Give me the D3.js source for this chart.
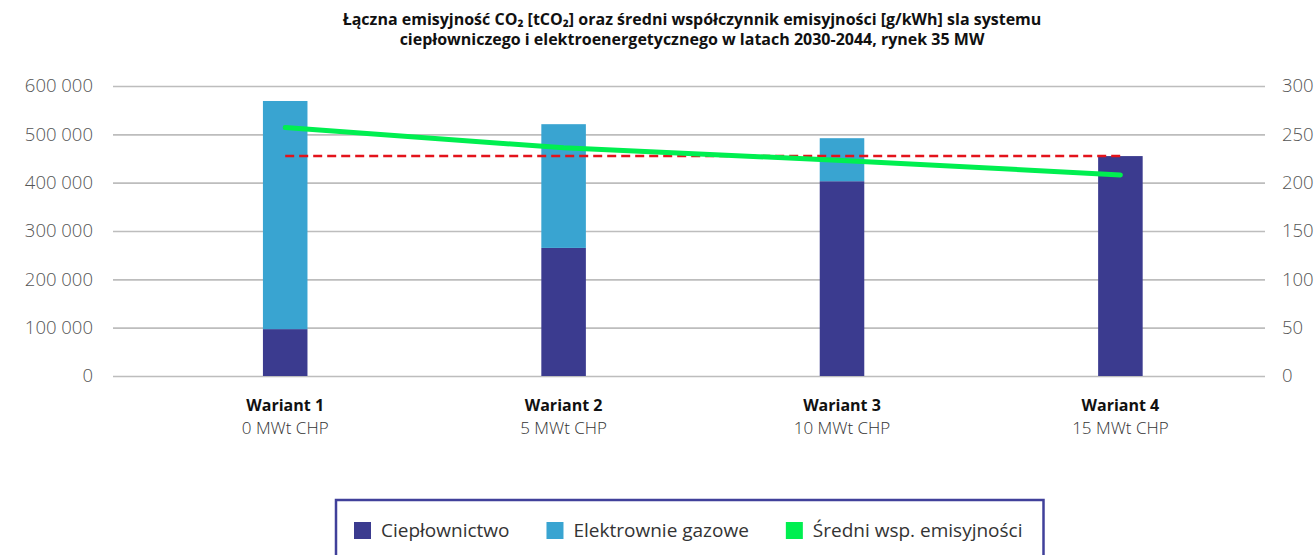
<!DOCTYPE html>
<html><head><meta charset="utf-8">
<script src="https://cdn.jsdelivr.net/npm/d3@7"></script>
<style>
html,body{margin:0;padding:0;background:#fff;}
svg{display:block;}
</style></head>
<body>
<svg id="chart" width="1316" height="555"></svg>
<script>
// ---- data ----
const categories = ["Wariant 1", "Wariant 2", "Wariant 3", "Wariant 4"];
const subLabels = ["0 MWt CHP", "5 MWt CHP", "10 MWt CHP", "15 MWt CHP"];
const cieplownictwo = [97000, 265000, 403000, 455000];
const elektrownieGazowe = [472000, 256000, 89000, 0];
const sredniWsp = [257, 236, 223, 208];
const referenceValue = 455000;
const leftTicks = [0, 100000, 200000, 300000, 400000, 500000, 600000];
const rightTicks = [0, 50, 100, 150, 200, 250, 300];
const titleLines = [
  "Łączna emisyjność CO₂ [tCO₂] oraz średni współczynnik emisyjności [g/kWh] sla systemu",
  "ciepłowniczego i elektroenergetycznego w latach 2030-2044, rynek 35 MW"
];
const legendItems = ["Ciepłownictwo", "Elektrownie gazowe", "Średni wsp. emisyjności"];

// ---- styles ----
const C_DARK = "#3b3b8f", C_LIGHT = "#39a4d1", C_GREEN = "#00ef50", C_RED = "#e3131b";
const FONT = "'Open Sans', sans-serif";

const svg = d3.select("#chart");
svg.append("rect").attr("width", 1316).attr("height", 555).attr("fill", "#fff");

const gridLeft = 113, gridRight = 1265, yTop = 86, yBottom = 376;

const x = d3.scaleBand().domain(categories).range([146, 1259.6])
  .paddingInner(0.84).paddingOuter(0.42);
const yL = d3.scaleLinear().domain([0, 600000]).range([yBottom, yTop]);
const yR = d3.scaleLinear().domain([0, 300]).range([yBottom, yTop]);

const loc = d3.formatLocale({decimal: ",", thousands: " ", grouping: [3], currency: ["", ""]});
const fmt = loc.format(",");

// left axis + gridlines
const gL = svg.append("g").attr("transform", `translate(${gridLeft},0)`)
  .call(d3.axisLeft(yL).tickValues(leftTicks).tickFormat(fmt)
    .tickSize(-(gridRight - gridLeft)).tickPadding(20));
gL.select(".domain").remove();
gL.selectAll(".tick line").attr("stroke", "#bdbdbd").attr("stroke-width", 1.6);
gL.selectAll(".tick text").attr("font-family", FONT).attr("font-weight", 300)
  .attr("font-size", 18.5).attr("fill", "#555");

// right axis
const gR = svg.append("g").attr("transform", `translate(${gridRight},0)`)
  .call(d3.axisRight(yR).tickValues(rightTicks).tickSize(0).tickPadding(17));
gR.select(".domain").remove();
gR.selectAll(".tick text").attr("font-family", FONT).attr("font-weight", 300)
  .attr("font-size", 18.5).attr("fill", "#555");

// stacked bars
const stackData = categories.map((c, i) => ({cat: c, a: cieplownictwo[i], b: elektrownieGazowe[i]}));
const stacked = d3.stack().keys(["a", "b"])(stackData);
const colors = [C_DARK, C_LIGHT];
stacked.forEach((layer, li) => {
  svg.append("g").selectAll("rect").data(layer).join("rect")
    .attr("x", d => x(d.data.cat))
    .attr("width", x.bandwidth())
    .attr("y", d => yL(d[1]))
    .attr("height", d => Math.max(0, yL(d[0]) - yL(d[1])))
    .attr("fill", colors[li]);
});

// reference dashed line
svg.append("line")
  .attr("x1", x(categories[0]) + x.bandwidth() / 2)
  .attr("x2", x(categories[categories.length - 1]) + x.bandwidth() / 2)
  .attr("y1", yL(referenceValue)).attr("y2", yL(referenceValue))
  .attr("stroke", C_RED).attr("stroke-width", 2.5).attr("stroke-dasharray", "9,5");

// green line
const line = d3.line().x((d, i) => x(categories[i]) + x.bandwidth() / 2).y(d => yR(d));
svg.append("path").datum(sredniWsp).attr("d", line)
  .attr("fill", "none").attr("stroke", C_GREEN).attr("stroke-width", 5)
  .attr("stroke-linecap", "round").attr("stroke-linejoin", "round");

// x labels
const xl = svg.append("g");
categories.forEach((c, i) => {
  const cx = x(c) + x.bandwidth() / 2;
  xl.append("text").attr("x", cx).attr("y", 411).attr("text-anchor", "middle")
    .attr("font-family", FONT).attr("font-weight", 700).attr("font-size", 16)
    .attr("fill", "#111").text(c);
  xl.append("text").attr("x", cx).attr("y", 434).attr("text-anchor", "middle")
    .attr("font-family", FONT).attr("font-weight", 300).attr("font-size", 17)
    .attr("fill", "#333").text(subLabels[i]);
});

// title
titleLines.forEach((t, i) => {
  svg.append("text").attr("x", 692).attr("y", 25 + i * 20).attr("text-anchor", "middle")
    .attr("font-family", FONT).attr("font-weight", 700).attr("font-size", 16)
    .attr("fill", "#111").text(t);
});

// legend
const lg = svg.append("g");
const legendColors = [C_DARK, C_LIGHT, C_GREEN];
let cx = 354;
legendItems.forEach((t, i) => {
  lg.append("rect").attr("x", cx).attr("y", 522).attr("width", 17).attr("height", 17)
    .attr("fill", legendColors[i]);
  const tx = lg.append("text").attr("x", cx + 27).attr("y", 537)
    .attr("font-family", FONT).attr("font-size", 19).attr("fill", "#333").text(t);
  const w = tx.node().getComputedTextLength();
  cx = cx + 27 + w + (i < legendItems.length - 1 ? 37 : 0);
});
lg.insert("rect", ":first-child").attr("x", 336).attr("y", 500)
  .attr("width", cx + 21 - 336).attr("height", 80)
  .attr("fill", "#fff").attr("stroke", "#40409a").attr("stroke-width", 2.5);
</script>
</body></html>
